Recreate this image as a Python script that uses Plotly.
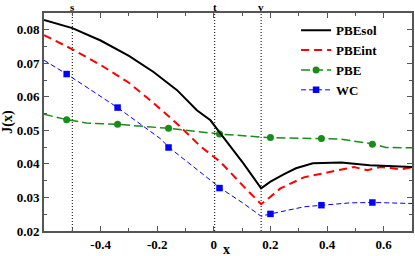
import plotly.graph_objects as go

# PBEsol (black solid)
x_sol = [-0.6, -0.5, -0.4, -0.3, -0.213, -0.13, -0.06, -0.012, 0.023, 0.105, 0.167, 0.2, 0.25, 0.29, 0.35, 0.45, 0.55, 0.7]
y_sol = [0.0829, 0.0805, 0.0768, 0.0722, 0.0674, 0.0620, 0.0560, 0.0530, 0.0491, 0.0401, 0.0327, 0.0347, 0.0370, 0.0387, 0.0402, 0.0404, 0.0396, 0.0391]

# PBEint (red dashed)
x_int = [-0.6, -0.505, -0.4, -0.3, -0.225, -0.13, -0.048, 0.023, 0.105, 0.167, 0.2, 0.235, 0.318, 0.424, 0.495, 0.542, 0.59, 0.66, 0.7]
y_int = [0.0784, 0.0744, 0.0695, 0.0642, 0.0590, 0.0520, 0.0453, 0.0406, 0.0333, 0.0280, 0.0302, 0.0327, 0.0360, 0.0379, 0.0391, 0.0381, 0.0391, 0.0384, 0.0390]

# PBE (green dashed with circles)
x_pbe = [-0.6, -0.52, -0.45, -0.34, -0.16, 0.023, 0.2, 0.383, 0.448, 0.566, 0.607, 0.7]
y_pbe = [0.0548, 0.0532, 0.0522, 0.0518, 0.0506, 0.0489, 0.0478, 0.0476, 0.0474, 0.0459, 0.0449, 0.0448]
xm_pbe = [-0.52, -0.34, -0.16, 0.02, 0.20, 0.38, 0.56]
ym_pbe = [0.0532, 0.0518, 0.0506, 0.0489, 0.0479, 0.0476, 0.0459]

# WC (blue dashed with squares)
x_wc = [-0.6, -0.52, -0.34, -0.19, -0.158, -0.048, 0.023, 0.105, 0.14, 0.167, 0.2, 0.318, 0.383, 0.483, 0.566, 0.7]
y_wc = [0.0709, 0.0668, 0.0568, 0.0476, 0.0449, 0.0376, 0.0328, 0.0282, 0.0262, 0.0244, 0.0251, 0.0272, 0.0277, 0.0284, 0.0285, 0.0282]
xm_wc = [-0.52, -0.34, -0.16, 0.02, 0.20, 0.38, 0.56]
ym_wc = [0.0668, 0.0568, 0.0449, 0.0328, 0.0251, 0.0277, 0.0285]

# reference points
ref_x = [-0.5, 0.003, 0.167]
ref_labels = ["s", "t", "v"]

# tick labels
x_tickvals = [-0.4, -0.2, 0.0, 0.2, 0.4, 0.6]
x_ticktext = ["-0.4", "-0.2", "0", "0.2", "0.4", "0.6"]

FONT = dict(family="Liberation Serif, Times New Roman, DejaVu Serif, serif", weight="bold", color="black")
GREEN = "#1a8c1a"
BLUE = "#0000ff"
RED = "#ff0000"

fig = go.Figure()

for rx in ref_x:
    fig.add_vline(x=rx, line=dict(color="black", width=1, dash="1px,2px"), layer="below")
for rx, lab in zip(ref_x, ref_labels):
    fig.add_annotation(x=rx, y=1, xref="x", yref="paper", yanchor="bottom", text=lab,
                       showarrow=False, font=dict(FONT, size=11), yshift=-2)

fig.add_trace(go.Scatter(x=x_pbe, y=y_pbe, mode="lines", line=dict(color=GREEN, width=1.5, dash="9px,4px"),
                         showlegend=False, hoverinfo="skip"))
fig.add_trace(go.Scatter(x=xm_pbe, y=ym_pbe, mode="markers", marker=dict(color=GREEN, size=7, symbol="circle"),
                         showlegend=False))
fig.add_trace(go.Scatter(x=x_wc, y=y_wc, mode="lines", line=dict(color=BLUE, width=1, dash="5px,3px"),
                         showlegend=False, hoverinfo="skip"))
fig.add_trace(go.Scatter(x=xm_wc, y=ym_wc, mode="markers", marker=dict(color=BLUE, size=6.5, symbol="square"),
                         showlegend=False))
fig.add_trace(go.Scatter(x=x_int, y=y_int, mode="lines", line=dict(color=RED, width=2, dash="8px,5px"),
                         showlegend=False))
fig.add_trace(go.Scatter(x=x_sol, y=y_sol, mode="lines", line=dict(color="black", width=2),
                         showlegend=False))

# legend entries
fig.add_trace(go.Scatter(x=[None], y=[None], mode="lines", name="PBEsol", line=dict(color="black", width=2)))
fig.add_trace(go.Scatter(x=[None], y=[None], mode="lines", name="PBEint", line=dict(color=RED, width=2, dash="8px,5px")))
fig.add_trace(go.Scatter(x=[None], y=[None], mode="lines+markers", name="PBE",
                         line=dict(color=GREEN, width=1.5, dash="9px,4px"), marker=dict(color=GREEN, size=7)))
fig.add_trace(go.Scatter(x=[None], y=[None], mode="lines+markers", name="WC",
                         line=dict(color=BLUE, width=1, dash="5px,3px"), marker=dict(color=BLUE, size=6.5, symbol="square")))

axis_common = dict(showline=True, linecolor="#555555", linewidth=2, mirror="allticks",
                   ticks="inside", tickcolor="#555555", ticklen=5, tickwidth=1,
                   showgrid=False, zeroline=False, tickfont=dict(FONT, size=13))

fig.update_xaxes(range=[-0.6, 0.7], tickmode="array", tickvals=x_tickvals, ticktext=x_ticktext,
                 minor=dict(tickmode="linear", tick0=0, dtick=0.1, ticks="inside", ticklen=3,
                            tickcolor="#555555", showgrid=False),
                 **axis_common)
fig.update_yaxes(range=[0.02, 0.085], tick0=0, dtick=0.01, tickformat=".2f",
                 minor=dict(dtick=0.005, ticks="inside", ticklen=3, tickcolor="#555555", showgrid=False),
                 title=dict(text="J(x)", font=dict(FONT, size=14), standoff=2), **axis_common)

fig.add_annotation(x=0.497, y=0, xref="paper", yref="paper", yanchor="top", yshift=-9,
                   text="x", showarrow=False, font=dict(FONT, size=14))

fig.update_layout(width=415, height=256, margin=dict(l=44, r=1, t=13, b=25),
                  paper_bgcolor="white", plot_bgcolor="white",
                  legend=dict(x=0.685, y=0.99, xanchor="left", yanchor="top", bgcolor="rgba(0,0,0,0)",
                              font=dict(FONT, size=13), tracegroupgap=0))

fig.write_html("out.html", config={"displayModeBar": False},
               post_script="document.body.style.margin='0';document.body.style.padding='0';"
                           "document.documentElement.style.overflow='hidden';")
